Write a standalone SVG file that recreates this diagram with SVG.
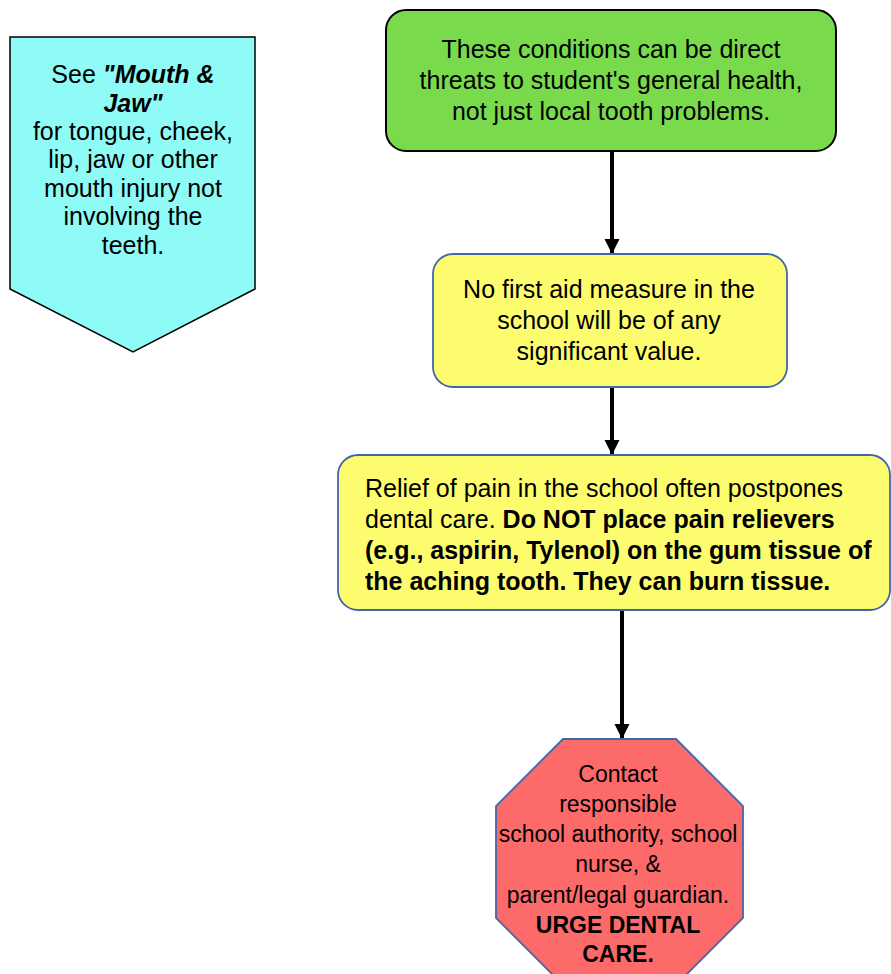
<svg xmlns="http://www.w3.org/2000/svg" width="891" height="974" viewBox="0 0 891 974">
  <style>
    text { font-family: "Liberation Sans", Arial, Helvetica, sans-serif; fill: #000; }
    .t25 { font-size: 25px; }
    .t23 { font-size: 23px; }
    .mid { text-anchor: middle; }
    .b { font-weight: bold; }
    .bi { font-weight: bold; font-style: italic; }
    .note { fill: #8ffbf6; stroke: #000; stroke-width: 1.5; }
    .start { fill: #79db4b; stroke: #000; stroke-width: 2; }
    .step { fill: #fdfc6e; stroke: #4266a8; stroke-width: 1.8; }
    .stop { fill: #fd6a6a; stroke: #4266a8; stroke-width: 1.8; }
    .conn { stroke: #000; stroke-width: 4; fill: none; }
  </style>
  <defs>
    <marker id="arrow" markerUnits="userSpaceOnUse" markerWidth="16" markerHeight="16" refX="15" refY="7.5" orient="auto">
      <path d="M0,0 L15,7.5 L0,15 Z" fill="#000"/>
    </marker>
  </defs>

  <rect width="891" height="974" fill="#fff"/>

  <!-- side note: pentagon pointer -->
  <g id="note-mouth-jaw">
    <polygon class="note" points="10,37 255,37 255,289 133,352 10,289"/>
    <text class="t25 mid" x="133" y="83">See <tspan class="bi">"Mouth &amp;</tspan></text>
    <text class="t25 mid bi" x="133" y="112">Jaw"</text>
    <text class="t25 mid" x="133" y="140">for tongue, cheek,</text>
    <text class="t25 mid" x="133" y="168">lip, jaw or other</text>
    <text class="t25 mid" x="133" y="197">mouth injury not</text>
    <text class="t25 mid" x="133" y="225">involving the</text>
    <text class="t25 mid" x="133" y="254">teeth.</text>
  </g>

  <!-- connectors -->
  <g id="connectors">
    <line class="conn" x1="612" y1="152" x2="612" y2="254" marker-end="url(#arrow)"/>
    <line class="conn" x1="612" y1="387" x2="612" y2="455" marker-end="url(#arrow)"/>
    <line class="conn" x1="622" y1="610" x2="622" y2="739" marker-end="url(#arrow)"/>
  </g>

  <g id="threats">
    <rect class="start" x="386" y="10" width="450" height="141" rx="20" ry="20"/>
    <text class="t25 mid" x="611" y="58">These conditions can be direct</text>
    <text class="t25 mid" x="611" y="89">threats to student's general health,</text>
    <text class="t25 mid" x="611" y="120">not just local tooth problems.</text>
  </g>

  <g id="no-first-aid">
    <rect class="step" x="433" y="254" width="354" height="133" rx="20" ry="20"/>
    <text class="t25 mid" x="609" y="298">No first aid measure in the</text>
    <text class="t25 mid" x="609" y="329">school will be of any</text>
    <text class="t25 mid" x="609" y="360">significant value.</text>
  </g>

  <g id="pain-relief">
    <rect class="step" x="338" y="455" width="552" height="155" rx="20" ry="20"/>
    <text class="t25" x="365" y="497">Relief of pain in the school often postpones</text>
    <text class="t25" x="365" y="528">dental care. <tspan class="b">Do NOT place pain relievers</tspan></text>
    <text class="t25 b" x="365" y="559">(e.g., aspirin, Tylenol) on the gum tissue of</text>
    <text class="t25 b" x="365" y="590">the aching tooth. They can burn tissue.</text>
  </g>

  <g id="contact">
    <polygon class="stop" points="563,739 676,739 743,806 743,918 676,985 563,985 496,918 496,806"/>
    <text class="t23 mid" x="618" y="782">Contact</text>
    <text class="t23 mid" x="618" y="812">responsible</text>
    <text class="t23 mid" x="618" y="842">school authority, school</text>
    <text class="t23 mid" x="618" y="872">nurse, &amp;</text>
    <text class="t23 mid" x="618" y="903">parent/legal guardian.</text>
    <text class="t23 mid b" x="618" y="933">URGE DENTAL</text>
    <text class="t23 mid b" x="618" y="962">CARE.</text>
  </g>
</svg>
